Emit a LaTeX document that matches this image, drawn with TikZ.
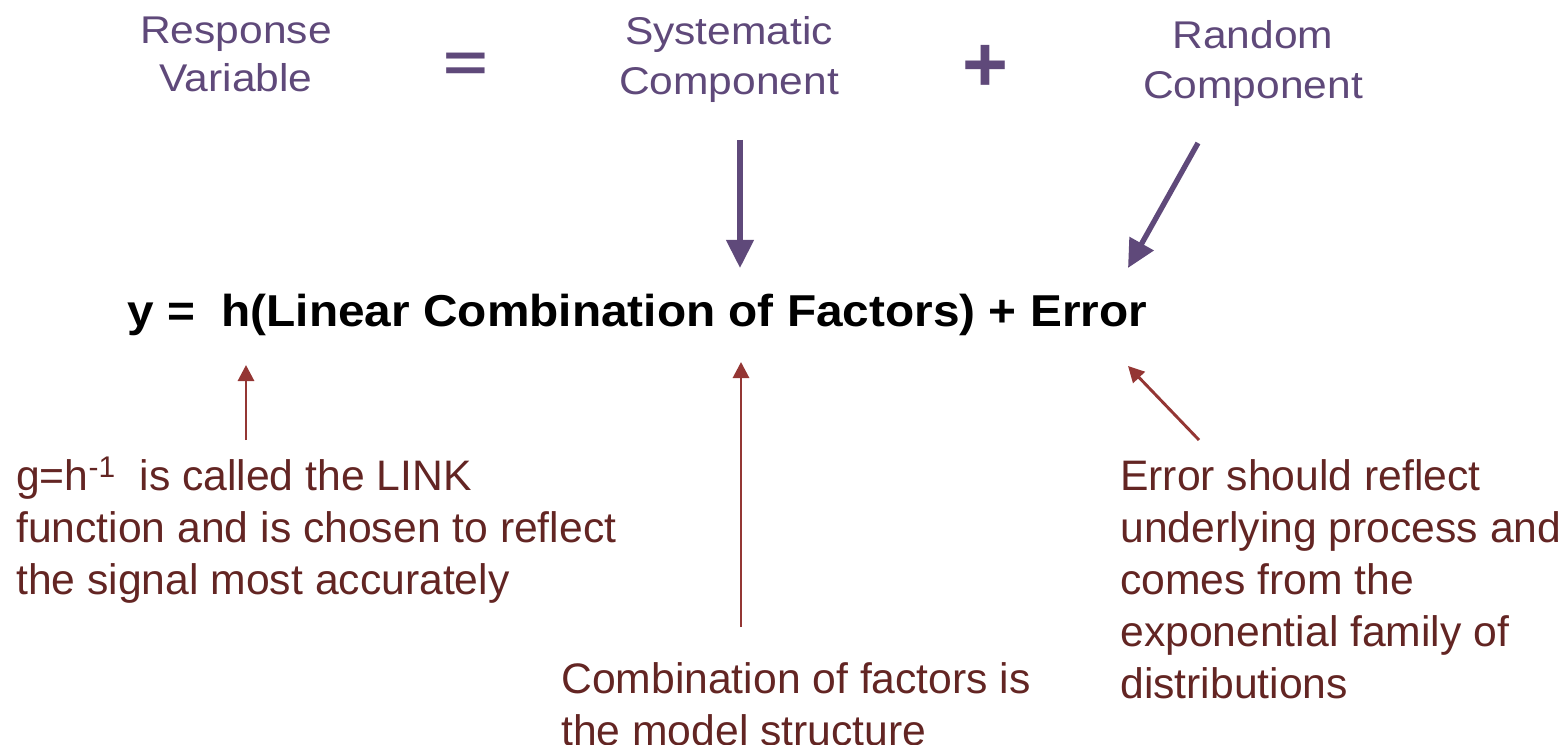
\documentclass[tikz,border=0pt]{standalone}
\usepackage{fontspec}
\setmainfont{Liberation Sans}
\newfontfamily\hdfont[FakeStretch=1.1]{Liberation Sans}
\newfontfamily\eqfont[FakeStretch=1.07]{Liberation Sans}
\newfontfamily\opfont[FakeStretch=1.4]{Liberation Sans}
\usetikzlibrary{arrows.meta}
\definecolor{hdpurple}{HTML}{5F497A}
\definecolor{txtred}{HTML}{632523}
\definecolor{arrred}{HTML}{943634}
\tikzset{
  hdtext/.style={text=hdpurple, font=\hdfont\fontsize{29}{36}\selectfont, align=center, inner sep=0pt, anchor=base},
  optext/.style={text=hdpurple, inner sep=0pt, anchor=center},
  eqtext/.style={text=black, font=\eqfont\fontsize{33.5}{38}\selectfont\bfseries, inner sep=0pt, anchor=base west},
  notetext/.style={text=txtred, font=\fontsize{32}{39}\selectfont, align=left, inner sep=0pt, anchor=base west},
  bigarrow/.style={draw=hdpurple, line width=4pt, -{Triangle[width=20pt,length=21pt]}},
  smallarrow/.style={draw=arrred, line width=2.2pt, -{Triangle[width=12pt,length=12pt]}}
}
\begin{document}
\begin{tikzpicture}[x=0.75pt,y=-0.75pt]
\useasboundingbox (0,0) rectangle (1564,745);
\node[hdtext] (resp) at (236,92) {Response\\Variable};
\node[optext, font=\opfont\fontsize{41}{45}\selectfont\bfseries] (eq) at (466,67.5) {=};
\node[hdtext] (sys) at (729,95) {Systematic\\[1.5pt]Component};
\node[optext, font=\fontsize{59}{60}\selectfont\bfseries] (plus) at (985,68) {+};
\node[hdtext] (rand) at (1253,99) {Random\\[2pt]Component};

\node[eqtext] (eqn) at (127,327) {y =\ \ h(Linear Combination of Factors) + Error};

\node[notetext] (link) at (16,594) {g=h\textsuperscript{-1}\ \ is called the LINK\\function and is chosen to reflect\\the signal most accurately};
\node[notetext] (comb) at (561,745) {Combination of factors is\\the model structure};
\node[notetext] (err) at (1120,698) {Error should reflect\\underlying process and\\comes from the\\exponential family of\\distributions};

\coordinate (s1) at (740,140);
\coordinate (e1) at (740,268);
\coordinate (s2) at (1198,143);
\coordinate (e2) at (1128,268);
\coordinate (s3) at (246,440);
\coordinate (e3) at (246,365);
\coordinate (s4) at (741,627);
\coordinate (e4) at (741,362);
\coordinate (s5) at (1199,440);
\coordinate (e5) at (1128,366);

\draw[bigarrow] (s1) -- (e1);
\draw[bigarrow] (s2) -- (e2);
\draw[smallarrow] (s3) -- (e3);
\draw[smallarrow] (s4) -- (e4);
\draw[smallarrow] (s5) -- (e5);
\end{tikzpicture}
\end{document}
